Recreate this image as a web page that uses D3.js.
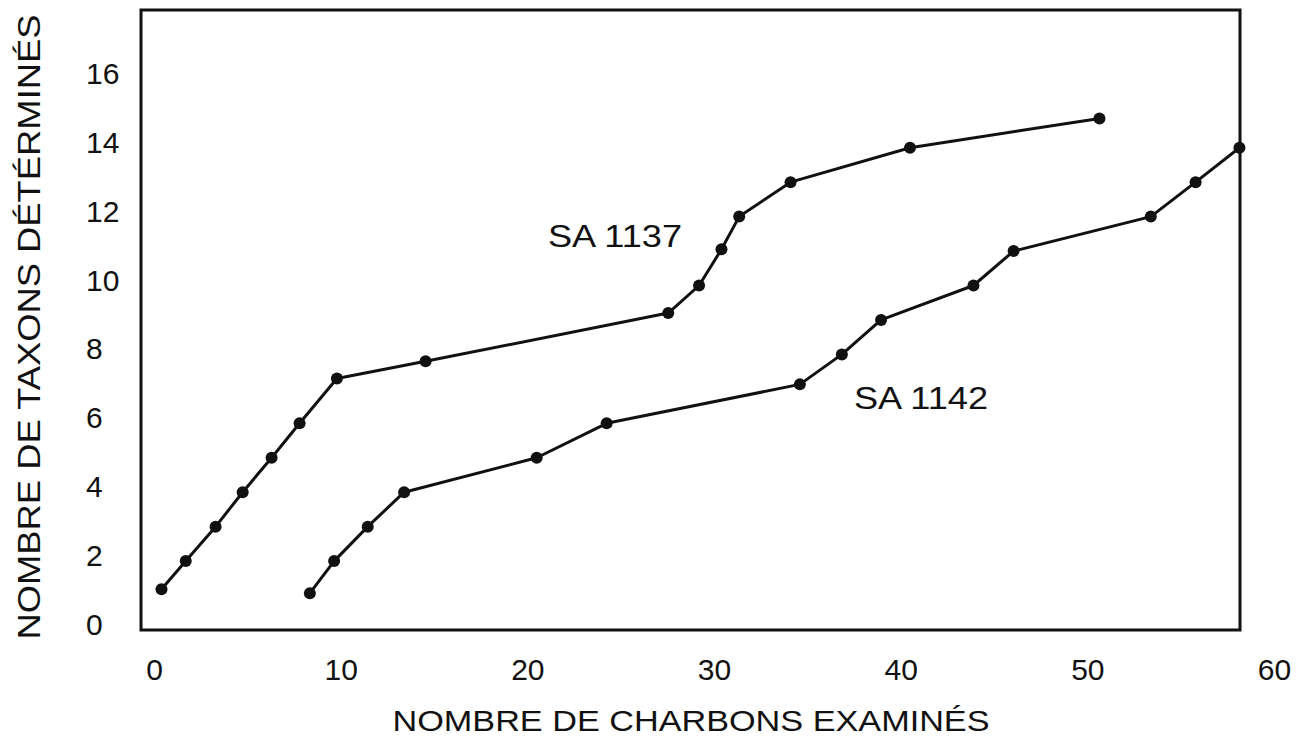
<!DOCTYPE html>
<html>
<head>
<meta charset="utf-8">
<script src="https://cdn.jsdelivr.net/npm/d3@7/dist/d3.min.js"></script>
<style>
  html, body { margin: 0; padding: 0; background: #fff; }
  svg { display: block; }
  text { font-family: "Liberation Sans", Arial, Helvetica, sans-serif; fill: #111; }
</style>
</head>
<body>
<svg id="chart" width="1308" height="739"></svg>
<script>
// Cumulative number of taxa identified vs. number of charcoal fragments examined
const sa1137Charbons = [0.4, 1.7, 3.3, 4.75, 6.3, 7.8, 9.8, 14.55, 27.55, 29.2, 30.4, 31.35, 34.1, 40.5, 50.65];
const sa1137Taxons   = [1.18, 2, 3, 4, 5, 6, 7.3, 7.8, 9.2, 10, 11.05, 12, 13, 14, 14.85];

const sa1142Charbons = [8.35, 9.65, 11.45, 13.4, 20.5, 24.25, 34.6, 36.85, 38.95, 43.9, 46.05, 53.4, 55.8, 58.15];
const sa1142Taxons   = [1.07, 2, 3, 4, 5, 6, 7.13, 8, 9, 10, 11, 12, 13, 14];

const xTickValues = [0, 10, 20, 30, 40, 50, 60];
const yTickValues = [0, 2, 4, 6, 8, 10, 12, 14, 16];

const seriesNames = ["SA 1137", "SA 1142"];
const xTitle = "NOMBRE DE CHARBONS EXAMINÉS";
const yTitle = "NOMBRE DE TAXONS DÉTÉRMINÉS";

const svg = d3.select("#chart");

// plot frame (pixels)
const frame = { left: 141, top: 10, right: 1240, bottom: 630 };

const x = d3.scaleLinear().domain([0, 60]).range([154, 1274]);
const y = d3.scaleLinear().domain([0, 16]).range([630, 78.8]);

// frame
svg.append("rect")
  .attr("x", frame.left).attr("y", frame.top)
  .attr("width", frame.right - frame.left)
  .attr("height", frame.bottom - frame.top)
  .attr("fill", "none").attr("stroke", "#111").attr("stroke-width", 3);

// x axis labels
const xAxis = svg.append("g")
  .attr("transform", `translate(0,${frame.bottom})`)
  .call(d3.axisBottom(x).tickValues(xTickValues).tickSize(0).tickPadding(29).tickFormat(d3.format("d")));
xAxis.select(".domain").remove();
xAxis.selectAll("text")
  .attr("font-size", 30)
  .attr("fill", "#111")
  .style("font-family", "'Liberation Sans', Arial, sans-serif");

// y axis labels (left-aligned column)
const yAxis = svg.append("g")
  .attr("transform", `translate(${frame.left},0)`)
  .call(d3.axisLeft(y).tickValues(yTickValues).tickSize(0).tickFormat(d3.format("d")));
yAxis.select(".domain").remove();
yAxis.selectAll("text")
  .attr("text-anchor", "start")
  .attr("x", 86 - frame.left)
  .attr("dy", "0.35em")
  .attr("y", -6)
  .attr("font-size", 30)
  .attr("fill", "#111")
  .style("font-family", "'Liberation Sans', Arial, sans-serif");

// axis titles
svg.append("text")
  .attr("x", 691).attr("y", 731)
  .attr("text-anchor", "middle")
  .attr("font-size", 30)
  .attr("textLength", 597)
  .attr("lengthAdjust", "spacingAndGlyphs")
  .text(xTitle);

svg.append("text")
  .attr("transform", "translate(40,327) rotate(-90)")
  .attr("text-anchor", "middle")
  .attr("font-size", 31)
  .attr("textLength", 625)
  .attr("lengthAdjust", "spacingAndGlyphs")
  .text(yTitle);

// series
const series = [
  { name: seriesNames[0], xs: sa1137Charbons, ys: sa1137Taxons },
  { name: seriesNames[1], xs: sa1142Charbons, ys: sa1142Taxons }
];

const line = d3.line().x(d => x(d[0])).y(d => y(d[1]));

series.forEach(s => {
  const pts = s.xs.map((v, i) => [v, s.ys[i]]);
  svg.append("path")
    .datum(pts)
    .attr("d", line)
    .attr("fill", "none")
    .attr("stroke", "#111")
    .attr("stroke-width", 3)
    .attr("stroke-linejoin", "round");
  svg.append("g").selectAll("circle")
    .data(pts).join("circle")
    .attr("cx", d => x(d[0]))
    .attr("cy", d => y(d[1]))
    .attr("r", 6)
    .attr("fill", "#111");
});

// series labels
svg.append("text")
  .attr("x", 615).attr("y", 247)
  .attr("text-anchor", "middle")
  .attr("font-size", 32)
  .attr("textLength", 134)
  .attr("lengthAdjust", "spacingAndGlyphs")
  .text(seriesNames[0]);

svg.append("text")
  .attr("x", 921).attr("y", 409)
  .attr("text-anchor", "middle")
  .attr("font-size", 32)
  .attr("textLength", 134)
  .attr("lengthAdjust", "spacingAndGlyphs")
  .text(seriesNames[1]);
</script>
</body>
</html>
